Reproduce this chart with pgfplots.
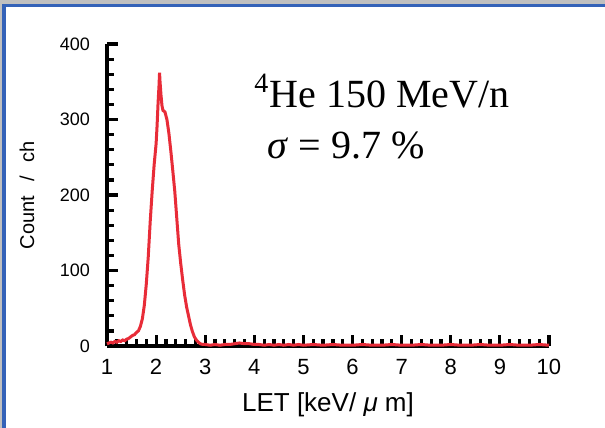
\documentclass[border=0pt]{standalone}
\usepackage{pgfplots}
\pgfplotsset{compat=1.18}
\usepackage{fontspec}
\setmainfont{Liberation Sans}
\newfontfamily\serif{Liberation Serif}
\definecolor{cgray}{RGB}{192,192,192}
\definecolor{cblue}{RGB}{52,98,184}
\definecolor{cred}{RGB}{232,44,56}
\pgfplotstableread{
x y
1.00 3
1.04 4
1.08 5
1.12 4
1.16 6
1.20 5
1.24 7
1.28 6
1.32 8
1.36 7
1.40 9
1.44 10
1.48 12
1.52 14
1.56 15
1.60 18
1.64 20
1.68 26
1.72 36
1.76 54
1.80 82
1.84 118
1.88 165
1.92 205
1.96 240
2.00 268
2.02 292
2.04 322
2.06 346
2.07 362
2.08 350
2.10 332
2.12 318
2.14 312
2.18 310
2.22 300
2.26 282
2.30 258
2.34 232
2.38 205
2.42 170
2.46 135
2.50 110
2.54 88
2.58 68
2.62 52
2.66 40
2.70 28
2.74 19
2.78 12
2.82 8
2.86 5
2.90 3
2.95 2
3.00 2
3.10 1
3.20 2
3.30 1
3.40 2
3.50 2
3.60 3
3.70 4
3.80 3
3.90 3
4.00 2
4.10 2
4.20 1
4.30 2
4.40 1
4.50 2
4.60 1
4.70 2
4.80 1
4.90 2
5.00 1
5.20 2
5.40 1
5.60 2
5.80 1
6.00 1
6.20 2
6.40 1
6.60 1
6.80 2
7.00 1
7.20 1
7.40 2
7.60 1
7.80 1
8.00 2
8.20 1
8.40 1
8.60 2
8.80 1
9.00 1
9.20 2
9.40 1
9.60 1
9.80 2
10.00 1
}\datatable
\begin{document}
\begin{tikzpicture}
\path[use as bounding box] (0,0) rectangle (302.5pt,214pt);
\fill[white] (0,0) rectangle (302.5pt,214pt);
\fill[cgray] (0,212pt) rectangle (302.5pt,214pt);
\fill[cgray] (0,0) rectangle (1pt,214pt);
\fill[cblue] (1pt,0) rectangle (3pt,212pt);
\fill[cblue] (1pt,210.5pt) rectangle (302.5pt,212pt);
\begin{axis}[
  at={(53.5pt,41pt)}, anchor=south west,
  scale only axis, width=221pt, height=151pt,
  xmin=1, xmax=10, ymin=0, ymax=400,
  axis lines=left,
  axis line style={-, line width=2pt, black},
  xtick={1,2,...,10}, ytick={0,100,...,400},
  minor x tick num=4, minor y tick num=4,
  tick align=inside,
  major tick length=5.5pt, minor tick length=3.5pt,
  tick style={black, line width=1.6pt},
  /pgf/number format/assume math mode=true,
  xticklabel style={font=\fontsize{11}{12}\selectfont, yshift=-3pt},
  yticklabel style={font=\fontsize{9}{10}\selectfont, xshift=-5pt},
  xlabel={LET [keV/ {\itshape μ} m]},
  ylabel={Count\hspace{7pt}/\hspace{7pt}ch},
  xlabel style={font=\fontsize{13}{14}\selectfont, at={(axis description cs:0.5,-0.195)}, anchor=center},
  ylabel style={font=\fontsize{10}{11}\selectfont, at={(axis description cs:-0.181,0.5)}, anchor=center},
  clip=false,
]
\addplot[cred, line width=1.5pt] table[x=x,y=y] {\datatable};
\end{axis}
\node[anchor=base west, inner sep=0pt, font=\serif\fontsize{20}{24}\selectfont] at (127pt,160pt) {\textsuperscript{4}He 150 MeV/n};
\node[anchor=base west, inner sep=0pt, font=\serif\fontsize{20}{24}\selectfont] at (133.5pt,134.5pt) {{\itshape σ}\;=\;9.7 \%};
\end{tikzpicture}
\end{document}
